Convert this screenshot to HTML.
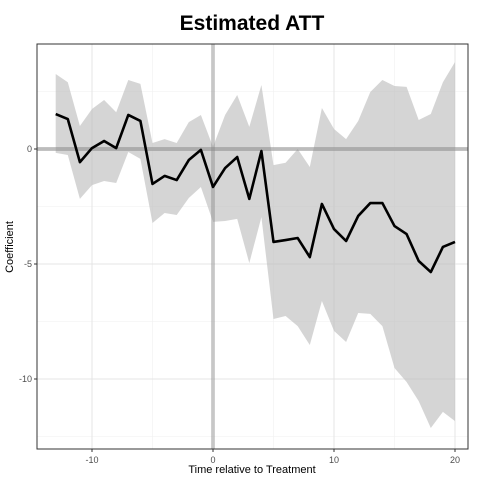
<!DOCTYPE html>
<html><head><meta charset="utf-8"><style>
body{margin:0;background:#fff;font-family:"Liberation Sans",sans-serif}
</style></head><body>
<svg id="chart" width="480" height="480" xmlns="http://www.w3.org/2000/svg">
<rect width="480" height="480" fill="#fff"/>
<text x="252" y="30" text-anchor="middle" font-size="21" font-weight="bold" font-family="Liberation Sans, sans-serif">Estimated ATT</text>
<g id="grid"></g>
<g id="marks"></g>
<rect x="37" y="44" width="431" height="405" fill="none" stroke="#333" stroke-width="1"/>
<g id="axes"></g>
<text x="252" y="473" text-anchor="middle" font-size="11">Time relative to Treatment</text>
<text transform="translate(13,247) rotate(-90)" text-anchor="middle" font-size="11">Coefficient</text>
</svg>
<script>
const periods=[-13,-12,-11,-10,-9,-8,-7,-6,-5,-4,-3,-2,-1,0,1,2,3,4,5,6,7,8,9,10,11,12,13,14,15,16,17,18,19,20];
const estimates=[1.52,1.3,-0.57,0.04,0.35,0.04,1.48,1.22,-1.52,-1.17,-1.35,-0.48,-0.04,-1.65,-0.83,-0.35,-2.17,-0.09,-4.04,-3.96,-3.87,-4.7,-2.39,-3.48,-4.0,-2.91,-2.35,-2.35,-3.35,-3.7,-4.87,-5.35,-4.26,-4.04];
const upper=[3.26,2.9,1.0,1.74,2.13,1.6,3.0,2.83,0.26,0.43,0.26,1.17,1.48,0.09,1.48,2.35,0.96,2.78,-0.7,-0.6,0,-0.78,1.78,0.87,0.43,1.22,2.48,3.0,2.74,2.7,1.26,1.52,2.9,3.78];
const lower=[-0.17,-0.26,-2.17,-1.57,-1.39,-1.48,-0.13,-0.43,-3.22,-2.78,-2.87,-2.13,-1.65,-3.17,-3.13,-3.04,-4.96,-2.96,-7.39,-7.26,-7.7,-8.52,-6.61,-7.91,-8.39,-7.13,-7.17,-7.7,-9.52,-10.13,-10.96,-12.13,-11.43,-11.83];
const xTicks=[-10,0,10,20];
const yTicks=[0,-5,-10];
const xMinor=[-5,5,15];
const yMinor=[2.5,-2.5,-7.5,-12.5];
const X=v=>213+v*12.1;
const Y=v=>149-v*23;
const NS="http://www.w3.org/2000/svg";
function mk(tag,attrs,parent){const e=document.createElementNS(NS,tag);for(const k in attrs)e.setAttribute(k,attrs[k]);document.getElementById(parent).appendChild(e);return e;}
xMinor.forEach(v=>{const e=mk('line',{x1:X(v),x2:X(v),y1:44,y2:449,stroke:'#f0f0f0','stroke-width':0.6},'grid');

});
yMinor.forEach(v=>{const e=mk('line',{x1:37,x2:468,y1:Y(v),y2:Y(v),stroke:'#f0f0f0','stroke-width':0.6},'grid');

});
xTicks.forEach(v=>{const e=mk('line',{x1:X(v),x2:X(v),y1:44,y2:449,stroke:'#e4e4e4','stroke-width':1},'grid');


const t=mk('line',{x1:X(v),x2:X(v),y1:449,y2:452,stroke:'#333'},'axes');


const l=mk('text',{x:X(v),y:463,'text-anchor':'middle','font-size':9,fill:'#4d4d4d'},'axes');l.textContent=v;

});
yTicks.forEach(v=>{const e=mk('line',{x1:37,x2:468,y1:Y(v),y2:Y(v),stroke:'#e4e4e4','stroke-width':1},'grid');


const t=mk('line',{x1:34,x2:37,y1:Y(v),y2:Y(v),stroke:'#333'},'axes');


const l=mk('text',{x:32,y:Y(v)+3,'text-anchor':'end','font-size':9,fill:'#4d4d4d'},'axes');l.textContent=v;

});
let pts=periods.map((p,i)=>X(p)+','+Y(upper[i]));
for(let i=periods.length-1;i>=0;i--)pts.push(X(periods[i])+','+Y(lower[i]));
const band=mk('polygon',{points:pts.join(' '),fill:'#bebebe','fill-opacity':0.65},'marks');


const h=mk('line',{x1:37,x2:468,y1:Y(0),y2:Y(0),stroke:'#888','stroke-opacity':0.5,'stroke-width':4},'marks');


const vl=mk('line',{x1:X(0),x2:X(0),y1:44,y2:449,stroke:'#888','stroke-opacity':0.4,'stroke-width':4},'marks');


const line=mk('polyline',{points:periods.map((p,i)=>X(p)+','+Y(estimates[i])).join(' '),fill:'none',stroke:'#000','stroke-width':2.6,'stroke-linejoin':'round'},'marks');


</script>
</body></html>
